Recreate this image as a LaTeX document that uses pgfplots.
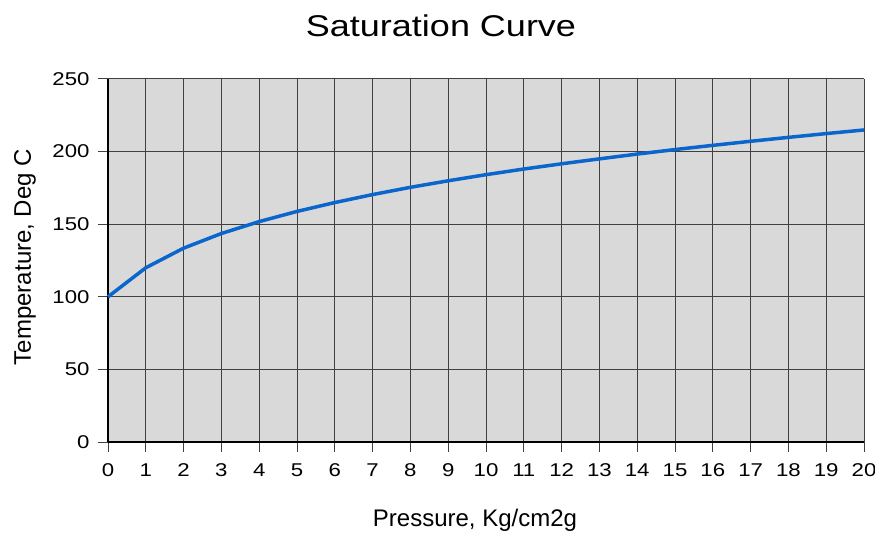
\documentclass[border=0pt]{standalone}
\usepackage{pgfplots}
\pgfplotsset{compat=1.18}
\usepackage{fontspec}
\setmainfont{Liberation Sans}
\definecolor{curve}{HTML}{0A66CC}
\definecolor{bg}{HTML}{D9D9D9}
\begin{document}
\begin{tikzpicture}[x=1pt,y=1pt]
\useasboundingbox (0,0) rectangle (875,533);
\begin{axis}[
  at={(108pt,91pt)}, anchor=south west,
  scale only axis, width=756pt, height=363pt,
  xmin=0, xmax=20, ymin=0, ymax=250,
  xtick={0,...,20}, ytick={0,50,...,250},
  axis lines*=left,
  axis line style={black, line width=1.2pt},
  axis background/.style={fill=bg},
  grid=major,
  major grid style={black!75, line width=1pt},
  tick align=outside, major tick length=10pt,
  tick style={black!75, line width=1pt},
  /pgf/number format/assume math mode=true,
  ticklabel style={font=\fontsize{18.5}{20}\selectfont},
  xticklabel={\scalebox{1.2}[1]{\pgfmathprintnumber{\tick}}},
  yticklabel={\scalebox{1.2}[1]{\pgfmathprintnumber{\tick}}},
  xticklabel style={yshift=-8pt},
  yticklabel style={xshift=-5pt},
  title={\scalebox{1.2}[1]{Saturation Curve}},
  title style={font=\fontsize{30}{32}\selectfont, at={(0.5,1)}, anchor=center, yshift=47pt, xshift=-45pt},
  xlabel={Pressure, Kg/cm2g},
  xlabel style={font=\fontsize{24}{26}\selectfont, at={(0.5,0)}, anchor=center, yshift=-78pt, xshift=-11pt},
  ylabel={Temperature, Deg C},
  ylabel style={font=\fontsize{24}{26}\selectfont, at={(0,0.5)}, anchor=center, yshift=83pt, xshift=3.5pt},
  clip=false,
]
\addplot[curve, line width=3.5pt, line join=round] coordinates {
(0,100) (1,120) (2,133.5) (3,143.6) (4,151.8) (5,158.8) (6,164.9) (7,170.4) (8,175.4) (9,179.9) (10,184.1) (11,188) (12,191.6) (13,195) (14,198.3) (15,201.4) (16,204.3) (17,207.1) (18,209.8) (19,212.4) (20,214.9)
};
\end{axis}
\end{tikzpicture}
\end{document}
